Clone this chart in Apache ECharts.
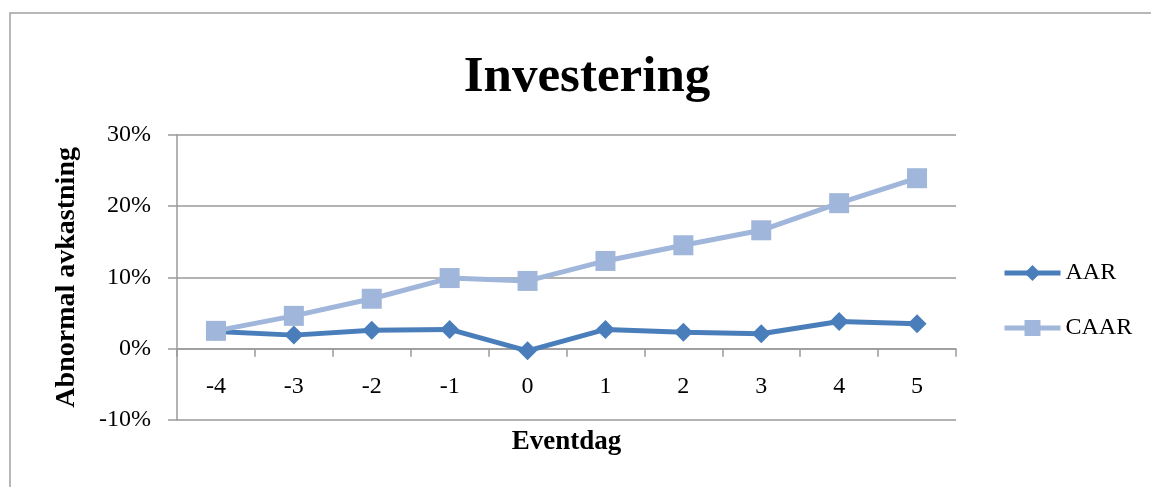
<!DOCTYPE html>
<html>
<head>
<meta charset="utf-8">
<script src="https://cdn.jsdelivr.net/npm/echarts@6/dist/echarts.min.js"></script>
<style>
html,body{margin:0;padding:0;background:#fff;}
#chart{width:1151px;height:487px;}
</style>
</head>
<body>
<div id="chart"></div>
<script>
var titleText = 'Investering';
var xAxisName = 'Eventdag';
var yAxisName = 'Abnormal avkastning';
var categories = ['-4', '-3', '-2', '-1', '0', '1', '2', '3', '4', '5'];
var aarValues = [0.024, 0.019, 0.026, 0.027, -0.003, 0.027, 0.023, 0.021, 0.038, 0.035];
var caarValues = [0.025, 0.046, 0.070, 0.099, 0.095, 0.123, 0.145, 0.166, 0.204, 0.239];
var seriesNames = ['AAR', 'CAAR'];

var serif = '"Liberation Serif", "DejaVu Serif", serif';
var gray = '#9a9a9a';
var chart = echarts.init(document.getElementById('chart'), null, {renderer: 'canvas'});
chart.setOption({
  animation: false,
  backgroundColor: '#ffffff',
  graphic: [{
    type: 'rect',
    shape: {x: 10, y: 13, width: 1180, height: 520},
    style: {fill: 'none', stroke: '#a0a0a0', lineWidth: 1.5},
    silent: true
  }],
  title: {
    text: titleText,
    left: 582,
    top: 47,
    textAlign: 'center',
    textStyle: {fontFamily: serif, fontSize: 51, fontWeight: 'bold', color: '#000'}
  },
  legend: {
    orient: 'vertical',
    left: 1002,
    top: 261,
    padding: 0,
    itemWidth: 56,
    itemHeight: 20,
    itemGap: 31,
    textStyle: {fontFamily: serif, fontSize: 24, color: '#000'},
    lineStyle: {width: 5},
    data: seriesNames
  },
  grid: {left: 177, right: 195, top: 134.7, bottom: 67, containLabel: false, outerBoundsMode: 'none'},
  xAxis: {
    type: 'category',
    data: categories,
    boundaryGap: true,
    offset: -71.3,
    name: xAxisName,
    nameLocation: 'middle',
    nameGap: 80,
    nameTextStyle: {fontFamily: serif, fontSize: 27, fontWeight: 'bold', color: '#000'},
    axisLine: {onZero: false, lineStyle: {color: gray, width: 1.5}},
    axisTick: {show: true, length: 8, inside: false, lineStyle: {color: gray, width: 1.5}},
    axisLabel: {fontFamily: serif, fontSize: 24, color: '#000', margin: 26},
    splitLine: {show: false}
  },
  yAxis: {
    type: 'value',
    min: -0.1,
    max: 0.3,
    interval: 0.1,
    name: yAxisName,
    nameLocation: 'middle',
    nameGap: 96,
    nameRotate: 90,
    nameTextStyle: {fontFamily: serif, fontSize: 28, fontWeight: 'bold', color: '#000'},
    axisLine: {show: true, lineStyle: {color: gray, width: 1.5}},
    axisTick: {show: true, length: 9, inside: false, lineStyle: {color: gray, width: 1.5}},
    axisLabel: {
      fontFamily: serif, fontSize: 24, color: '#000', margin: 26,
      formatter: function (v) { return Math.round(v * 100) + '%'; }
    },
    splitLine: {show: true, lineStyle: {color: gray, width: 1.5}}
  },
  series: [{
    name: seriesNames[0],
    type: 'line',
    data: aarValues,
    symbol: 'diamond',
    symbolSize: 19,
    showAllSymbol: true,
    z: 3,
    itemStyle: {color: '#4A7EBB'},
    lineStyle: {color: '#4A7EBB', width: 5}
  }, {
    name: seriesNames[1],
    type: 'line',
    data: caarValues,
    symbol: 'rect',
    symbolSize: 20,
    showAllSymbol: true,
    z: 4,
    itemStyle: {color: '#A0B6DA'},
    lineStyle: {color: '#A0B6DA', width: 5}
  }]
});
</script>
</body>
</html>
